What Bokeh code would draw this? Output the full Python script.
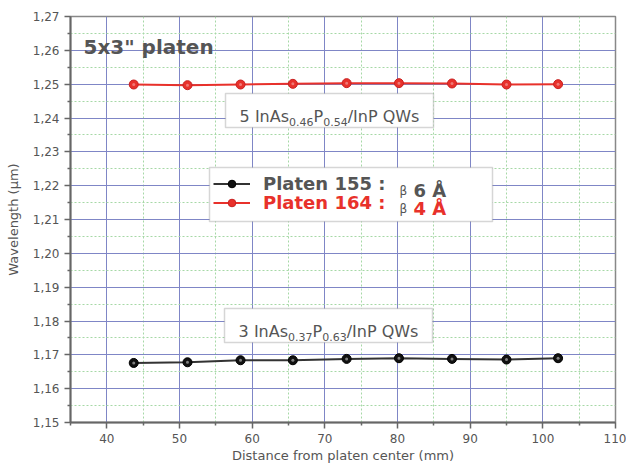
from bokeh.plotting import figure
from bokeh.models import (Range1d, FixedTicker, CustomJSTickFormatter, BoxAnnotation,
                          Label, Legend, LegendItem)
from bokeh.embed import file_html
from bokeh.resources import INLINE

# ---------------- data ----------------
distance_mm = [43.7, 51.1, 58.4, 65.6, 73.0, 80.2, 87.5, 95.0, 102.1]
wl_platen164 = [1.2499, 1.2497, 1.2499, 1.2501, 1.2503, 1.2503, 1.2502, 1.2499, 1.2500]
wl_platen155 = [1.1676, 1.1678, 1.1684, 1.1684, 1.1688, 1.1690, 1.1688, 1.1686, 1.1690]
x_major = [40, 50, 60, 70, 80, 90, 100, 110]
x_minor = [35, 45, 55, 65, 75, 85, 95, 105]
y_major = [1.15, 1.16, 1.17, 1.18, 1.19, 1.20, 1.21, 1.22, 1.23, 1.24, 1.25, 1.26, 1.27]
y_minor = [1.155, 1.165, 1.175, 1.185, 1.195, 1.205, 1.215, 1.225, 1.235, 1.245, 1.255, 1.265]

FONT = "DejaVu Sans"
GREY = "#555555"
RED = "#e8312b"

p = figure(width=626, height=469, x_range=Range1d(35, 110), y_range=Range1d(1.15, 1.27),
           output_backend="svg", toolbar_location=None,
           min_border_left=70, min_border_right=11, min_border_top=16, min_border_bottom=47)
p.background_fill_color = "white"
p.border_fill_color = "white"
p.outline_line_color = "#888888"
p.outline_line_width = 1.5

p.xaxis.ticker = FixedTicker(ticks=x_major, minor_ticks=x_minor)
p.yaxis.ticker = FixedTicker(ticks=y_major, minor_ticks=y_minor)
p.yaxis.formatter = CustomJSTickFormatter(code="return tick.toFixed(2).replace('.', ',');")

for ax in (p.xaxis, p.yaxis):
    ax.axis_line_color = "#666666"
    ax.axis_line_width = 2
    ax.major_tick_line_color = "#666666"
    ax.minor_tick_line_color = "#666666"
    ax.major_tick_line_width = 1.5
    ax.minor_tick_line_width = 1.5
    ax.major_tick_out = 6
    ax.major_tick_in = 0
    ax.minor_tick_out = 3
    ax.minor_tick_in = 0
    ax.major_label_text_font = FONT
    ax.major_label_text_font_size = "12px"
    ax.major_label_text_color = GREY
    ax.axis_label_text_font = FONT
    ax.axis_label_text_font_size = "13px"
    ax.axis_label_text_font_style = "normal"
    ax.axis_label_text_color = GREY

p.xaxis.axis_label = "Distance from platen center (mm)"
p.yaxis.axis_label = "Wavelength (\u00b5m)"
p.xaxis.major_label_standoff = 5
p.xaxis.axis_label_standoff = 2
p.yaxis.major_label_standoff = 5
p.yaxis.axis_label_standoff = 9

p.grid.grid_line_color = "#7f86c6"
p.grid.grid_line_width = 1
p.grid.minor_grid_line_color = "#a6d8a6"
p.grid.minor_grid_line_dash = "2 2"
p.grid.minor_grid_line_width = 1

# ---------------- series ----------------
l164 = p.line(distance_mm, wl_platen164, line_color=RED, line_width=2)
s164 = p.scatter(distance_mm, wl_platen164, size=9, fill_color=RED, line_color="#c82020")
p.scatter(distance_mm, wl_platen164, size=3, fill_color="white", fill_alpha=0.35, line_alpha=0)
l155 = p.line(distance_mm, wl_platen155, line_color="#333333", line_width=2)
s155 = p.scatter(distance_mm, wl_platen155, size=9, fill_color="#111111", line_color="#000000")
p.scatter(distance_mm, wl_platen155, size=3, fill_color="#cccccc", fill_alpha=0.6, line_alpha=0)

# ---------------- helpers: reference-pixel -> data ----------------
def dx(px):
    return 35 + (px - 70) * 75.0 / 545.0

def dy(py):
    return 1.27 - (py - 16) * 0.12 / 406.0

W = {' ': .318, '/': .337, '.': .318, 'A': .684, 'I': .295, 'P': .603, 'Q': .787,
     'W': .989, 'n': .634, 's': .521}
for d in "0123456789":
    W[d] = .636

def tw(s, size):
    return sum(W.get(c, .6) for c in s) * size

def text_box(left, right, top, bottom, pieces, base):
    p.add_layout(BoxAnnotation(left=dx(left), right=dx(right), top=dy(top), bottom=dy(bottom),
                               fill_color="white", fill_alpha=1, line_color="#777777",
                               line_width=1.5, level="annotation"))
    total = sum(tw(s, sz) for s, sz, _ in pieces)
    x = (left + right) / 2 - total / 2
    for s, sz, drop in pieces:
        p.add_layout(Label(x=dx(x), y=dy(base + drop), text=s, text_font=FONT,
                           text_font_size=f"{sz}px", text_color=GREY,
                           text_align="left", text_baseline="alphabetic"))
        x += tw(s, sz)

text_box(225, 433, 93, 127,
         [("5 InAs", 16, 0), ("0.46", 11, 5), ("P", 16, 0), ("0.54", 11, 5), ("/InP QWs", 16, 0)],
         116)
text_box(224, 432, 308, 342,
         [("3 InAs", 16, 0), ("0.37", 11, 5), ("P", 16, 0), ("0.63", 11, 5), ("/InP QWs", 16, 0)],
         331)

# ---------------- title ----------------
p.add_layout(Label(x=dx(83), y=dy(46), text='5x3" platen', text_font=FONT,
                   text_font_size="20px", text_font_style="bold", text_color=GREY,
                   text_baseline="alphabetic"))

# ---------------- legend ----------------
p.add_layout(BoxAnnotation(left=dx(209), right=dx(492), top=dy(167), bottom=dy(221),
                           fill_color="white", fill_alpha=1, line_color="#777777",
                           line_width=1.5, level="annotation"))

def make_legend(label, rends, color, bottom):
    return Legend(items=[LegendItem(label=label, renderers=rends)], location=(143, bottom),
                  padding=0, margin=0, spacing=0, border_line_alpha=0, background_fill_alpha=0,
                  glyph_width=37, glyph_height=19, label_height=19, label_standoff=13,
                  label_text_font=FONT, label_text_font_size="18px",
                  label_text_font_style="bold", label_text_color=color)

p.add_layout(make_legend("Platen 155 :", [l155, s155], GREY, 228.5))
p.add_layout(make_legend("Platen 164 :", [l164, s164], RED, 209.5))

for base, col, val in ((190, GREY, "6 \u00c5"), (208, RED, "4 \u00c5")):
    p.add_layout(Label(x=dx(399), y=dy(base), text="\u03b2", text_font=FONT,
                       text_font_size="12px", text_color=GREY, text_baseline="alphabetic"))
    p.add_layout(Label(x=dx(413), y=dy(base), text=val, text_font=FONT,
                       text_font_size="18px", text_font_style="bold", text_color=col,
                       text_baseline="alphabetic"))

open("out.html", "w").write(file_html(p, INLINE))
